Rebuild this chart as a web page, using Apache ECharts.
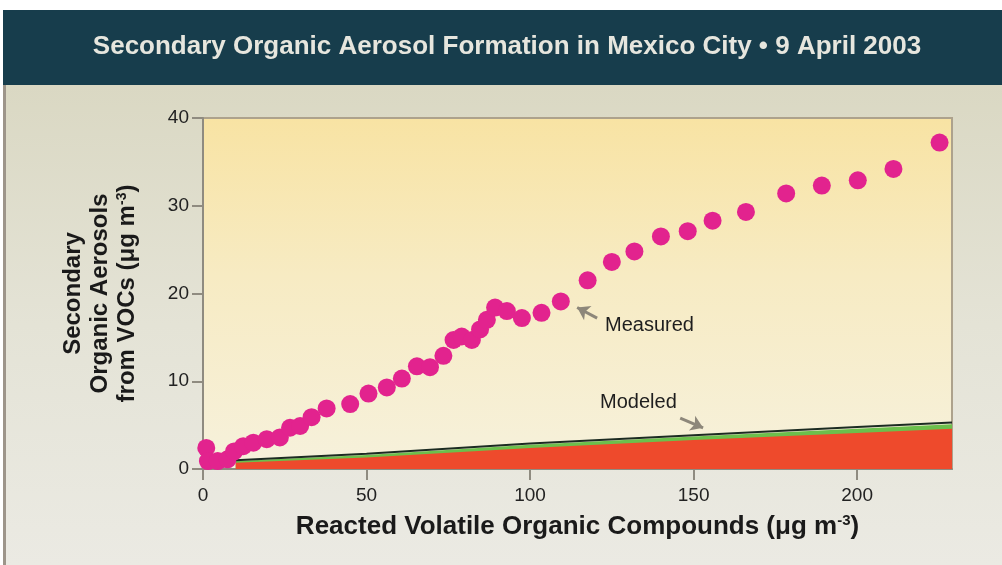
<!DOCTYPE html>
<html>
<head>
<meta charset="utf-8">
<script src="https://cdn.jsdelivr.net/npm/echarts@6/dist/echarts.min.js"></script>
<style>
  html, body { margin: 0; padding: 0; background: #ffffff; }
  #chart { width: 1002px; height: 565px; }
</style>
</head>
<body>
<div id="chart"></div>
<script>
// measured SOA vs reacted VOCs
const measX = [1.0, 1.5, 4.5, 7.5, 9.5, 12.3, 15.4, 19.5, 23.5, 26.6, 29.7, 33.2, 37.8, 45.0, 50.6, 56.2, 60.8, 65.4, 69.4, 73.5, 76.6, 79.1, 82.2, 84.7, 86.8, 89.3, 92.9, 97.5, 103.5, 109.4, 117.6, 125.0, 131.9, 140.0, 148.2, 155.8, 166.0, 178.3, 189.2, 200.2, 211.1, 225.2];
const measY = [2.4, 0.9, 0.9, 1.1, 2.0, 2.6, 3.0, 3.4, 3.6, 4.7, 4.9, 5.9, 6.9, 7.4, 8.6, 9.3, 10.3, 11.7, 11.6, 12.9, 14.7, 15.1, 14.7, 15.9, 17.0, 18.4, 18.0, 17.2, 17.8, 19.1, 21.5, 23.6, 24.8, 26.5, 27.1, 28.3, 29.3, 31.4, 32.3, 32.9, 34.2, 37.2];

// modeled bands (top of each layer)
const modX = [10, 50, 100, 150, 200, 229];
const modRed = [0.7, 1.3, 2.4, 3.3, 4.1, 4.6];
const modGreen = [0.9, 1.6, 2.75, 3.7, 4.6, 5.1];
const modLine = [1.0, 1.75, 2.9, 3.85, 4.8, 5.3];

const xTicks = [0, 50, 100, 150, 200];
const yTicks = [0, 10, 20, 30, 40];

const chart = echarts.init(document.getElementById('chart'));

const pairs = (xs, ys) => xs.map((x, i) => [x, ys[i]]);

const option = {
  backgroundColor: '#ffffff',
  animation: false,
  textStyle: { fontFamily: 'Liberation Sans' },
  graphic: [
    { type: 'rect', z: -10, shape: { x: 3, y: 10, width: 999, height: 75 }, style: { fill: '#173d4c' } },
    {
      type: 'rect', z: -10, shape: { x: 3, y: 85, width: 999, height: 480 },
      style: {
        fill: new echarts.graphic.LinearGradient(0, 0, 0, 1, [
          { offset: 0, color: '#dad8c3' },
          { offset: 0.5, color: '#e4e3d6' },
          { offset: 1, color: '#ebeae3' }
        ])
      }
    },
    { type: 'rect', z: -9, shape: { x: 3, y: 85, width: 3, height: 480 }, style: { fill: '#9d958a' } },
    {
      type: 'text', z: 10, x: 507, y: 47,
      style: {
        text: 'Secondary Organic Aerosol Formation in Mexico City \u2022 9 April 2003',
        fill: '#e6e6de', font: 'bold 26px "Liberation Sans"',
        align: 'center', verticalAlign: 'middle'
      }
    }
  ],
  grid: {
    left: 203, right: 50, top: 118, bottom: 96,
    show: true,
    borderColor: '#ada28c',
    borderWidth: 2,
    backgroundColor: new echarts.graphic.LinearGradient(0, 0, 0, 1, [
      { offset: 0, color: '#f8e3a3' },
      { offset: 0.45, color: '#f7ebc3' },
      { offset: 1, color: '#f6f1dc' }
    ])
  },
  xAxis: {
    type: 'value', min: 0, max: 229, interval: 50,
    name: 'Reacted Volatile Organic Compounds (\u03bcg m{s|-3})',
    nameLocation: 'middle', nameGap: 44,
    nameTextStyle: {
      fontSize: 26, fontWeight: 'bold', color: '#1a1a1a',
      rich: { s: { fontSize: 15, fontWeight: 'bold', color: '#1a1a1a', padding: [0, 0, 12, 0] } }
    },
    axisLine: { lineStyle: { color: '#8f8b80', width: 2 } },
    axisTick: { length: 11, inside: false, lineStyle: { color: '#8f8b80', width: 2 } },
    axisLabel: { margin: 17, fontSize: 19, color: '#222', showMaxLabel: false },
    splitLine: { show: false }
  },
  yAxis: {
    type: 'value', min: 0, max: 40, interval: 10,
    name: 'Secondary\nOrganic Aerosols\nfrom VOCs (\u03bcg m{s|-3})',
    nameLocation: 'middle', nameRotate: 90, nameGap: 62,
    nameTextStyle: {
      fontSize: 24, fontWeight: 'bold', color: '#1a1a1a', lineHeight: 27, align: 'center',
      rich: { s: { fontSize: 14, fontWeight: 'bold', color: '#1a1a1a', padding: [0, 0, 11, 0] } }
    },
    axisLine: { show: true, lineStyle: { color: '#8f8b80', width: 2 } },
    axisTick: { show: true, length: 11, lineStyle: { color: '#8f8b80', width: 2 } },
    axisLabel: { margin: 14, fontSize: 19, color: '#222' },
    splitLine: { show: false }
  },
  series: [
    {
      type: 'line', data: pairs(modX, modGreen), symbol: 'none', z: 2,
      lineStyle: { width: 0 }, areaStyle: { color: '#6cbf4c', opacity: 1, origin: 'start' }
    },
    {
      type: 'line', data: pairs(modX, modRed), symbol: 'none', z: 3,
      lineStyle: { width: 0 }, areaStyle: { color: '#ee4a2c', opacity: 1, origin: 'start' }
    },
    {
      type: 'line', data: pairs(modX, modLine), symbol: 'none', z: 4,
      lineStyle: { color: '#1c2b22', width: 2 },
      markLine: {
        silent: true, symbol: ['none', 'arrow'], symbolSize: 12,
        label: { show: false },
        lineStyle: { color: '#8d877a', width: 3, type: 'solid' },
        data: [
          [{ coord: [120.5, 17.2] }, { coord: [114.4, 18.4] }],
          [{ coord: [145.9, 5.8] }, { coord: [152.9, 4.7] }]
        ]
      },
      markPoint: {
        silent: true, symbol: 'circle', symbolSize: 0,
        label: { show: true, position: 'right', distance: 0, fontSize: 20, color: '#1e1e1e' },
        data: [
          { coord: [122.9, 16.4], label: { formatter: 'Measured' } },
          { coord: [121.4, 7.6], label: { formatter: 'Modeled' } }
        ]
      }
    },
    {
      type: 'scatter', data: pairs(measX, measY), symbolSize: 18, z: 5,
      itemStyle: { color: '#e2238e', opacity: 1 }
    }
  ]
};

chart.setOption(option);
</script>
</body>
</html>
